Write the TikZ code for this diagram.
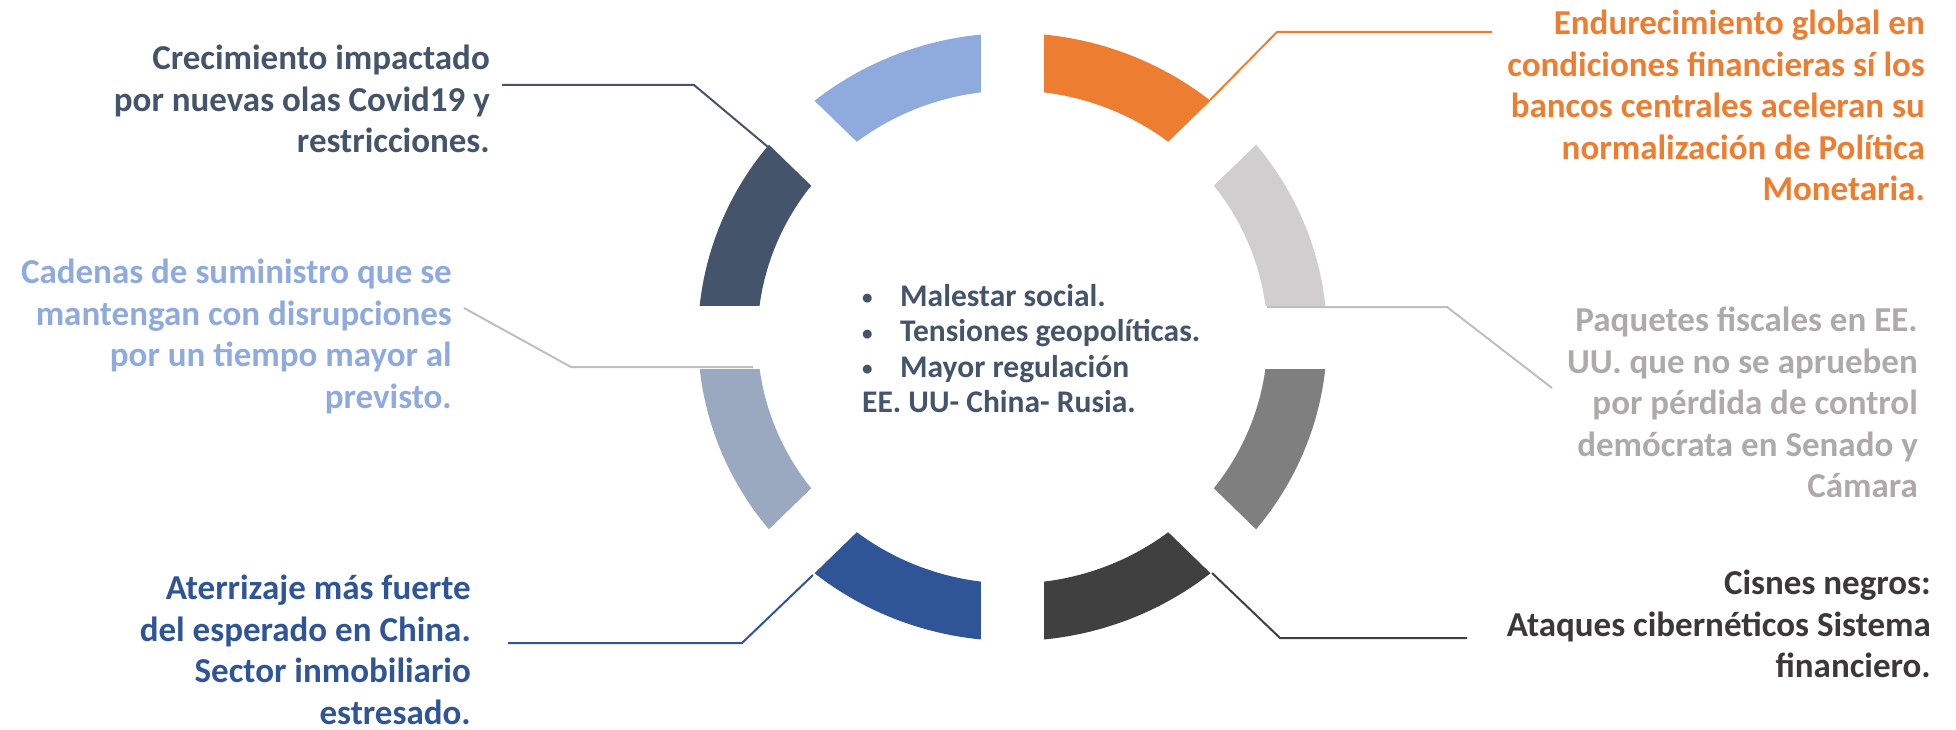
\documentclass[tikz,border=0pt]{standalone}
\usepackage{fontspec}
\setmainfont{Carlito}

\definecolor{riskSlate}{HTML}{44546A}
\definecolor{riskSky}{HTML}{8FAADC}
\definecolor{riskOrange}{HTML}{ED7D31}
\definecolor{riskSilver}{HTML}{D0CECE}
\definecolor{riskSteel}{HTML}{9AA9BF}
\definecolor{riskGray}{HTML}{7F7F7F}
\definecolor{riskBlue}{HTML}{2F5597}
\definecolor{riskDark}{HTML}{404040}
\definecolor{riskLine}{HTML}{BFBFBF}
\definecolor{riskText}{HTML}{AEAAAA}
\definecolor{riskInk}{HTML}{3B3838}

\newcommand{\bul}{\makebox[38pt][l]{\raisebox{1.5pt}{\fontsize{21}{21}\selectfont •}}}

\begin{document}
\begin{tikzpicture}[x=1pt,y=-1pt,
  risk/.style={align=right,anchor=north east,inner sep=0pt,
    font=\fontsize{35}{41.5}\selectfont\bfseries},
  leader/.style={line width=2pt}]
  \useasboundingbox (0,0) rectangle (1956,730);

  % ring of eight pieces
  \begin{scope}[shift={(1012.5,337)}]
    \foreach \a/\c [evaluate=\a as \b using \a+45] in
      {0/riskGray,45/riskDark,90/riskBlue,135/riskSteel,
       180/riskSlate,225/riskSky,270/riskOrange,315/riskSilver} {
      \fill[\c] (\a:314.5 and 304) arc[start angle=\a,end angle=\b,x radius=314.5,y radius=304]
        -- (\b:255 and 246.5) arc[start angle=\b,end angle=\a,x radius=255,y radius=246.5] -- cycle;
    }
    \foreach \t in {0,45,90,135}
      \draw[white,line width=63pt] (\t:340 and 330) -- (\t+180:340 and 330);
  \end{scope}

  \node[anchor=north west,inner sep=0pt,align=left,text=riskSlate,
    font=\fontsize{31.5}{35.5}\selectfont\bfseries] (core) at (862,284)
    {\bul Malestar social.\\ \bul Tensiones geopolíticas.\\ \bul Mayor regulación\\ EE. UU- China- Rusia.};

  \node[risk,text=riskSlate] (covid) at (490,45)
    {Crecimiento impactado\\ por nuevas olas Covid19 y\\ restricciones.};
  \node[risk,text=riskSky] (supply) at (452,259)
    {Cadenas de suministro que se\\ mantengan con disrupciones\\ por un tiempo mayor al\\ previsto.};
  \node[risk,text=riskBlue] (china) at (471,575)
    {Aterrizaje más fuerte\\ del esperado en China.\\ Sector inmobiliario\\ estresado.};
  \node[risk,text=riskOrange] (rates) at (1925,10)
    {Endurecimiento global en\\ condiciones financieras sí los\\ bancos centrales aceleran su\\ normalización de Política\\ Monetaria.};
  \node[risk,text=riskText] (fiscal) at (1918,307)
    {Paquetes fiscales en EE.\\ UU. que no se aprueben\\ por pérdida de control\\ demócrata en Senado y\\ Cámara};
  \node[risk,text=riskInk] (swans) at (1931,570)
    {Cisnes negros:\\ Ataques cibernéticos Sistema\\ financiero.};

  % leader lines
  \coordinate (covidEnd) at (502,85);
  \coordinate (covidBend) at (694,85);
  \coordinate (covidTip) at (768,147);
  \coordinate (supplyEnd) at (464,308);
  \coordinate (supplyBend) at (571,367);
  \coordinate (supplyTip) at (753,367);
  \coordinate (chinaEnd) at (508,643);
  \coordinate (chinaBend) at (742,643);
  \coordinate (chinaTip) at (813,575);
  \coordinate (ratesEnd) at (1492,32);
  \coordinate (ratesBend) at (1277,32);
  \coordinate (ratesTip) at (1210,100);
  \coordinate (fiscalTip) at (1267,307);
  \coordinate (fiscalBend) at (1447,307);
  \coordinate (fiscalEnd) at (1552,388);
  \coordinate (swansTip) at (1212,573);
  \coordinate (swansBend) at (1280,638);
  \coordinate (swansEnd) at (1467,638);

  \draw[leader,riskSlate] (covidEnd) -- (covidBend) -- (covidTip);
  \draw[leader,riskLine] (supplyEnd) -- (supplyBend) -- (supplyTip);
  \draw[leader,riskBlue] (chinaEnd) -- (chinaBend) -- (chinaTip);
  \draw[leader,riskOrange] (ratesEnd) -- (ratesBend) -- (ratesTip);
  \draw[leader,riskLine] (fiscalTip) -- (fiscalBend) -- (fiscalEnd);
  \draw[leader,riskDark] (swansTip) -- (swansBend) -- (swansEnd);
\end{tikzpicture}
\end{document}
